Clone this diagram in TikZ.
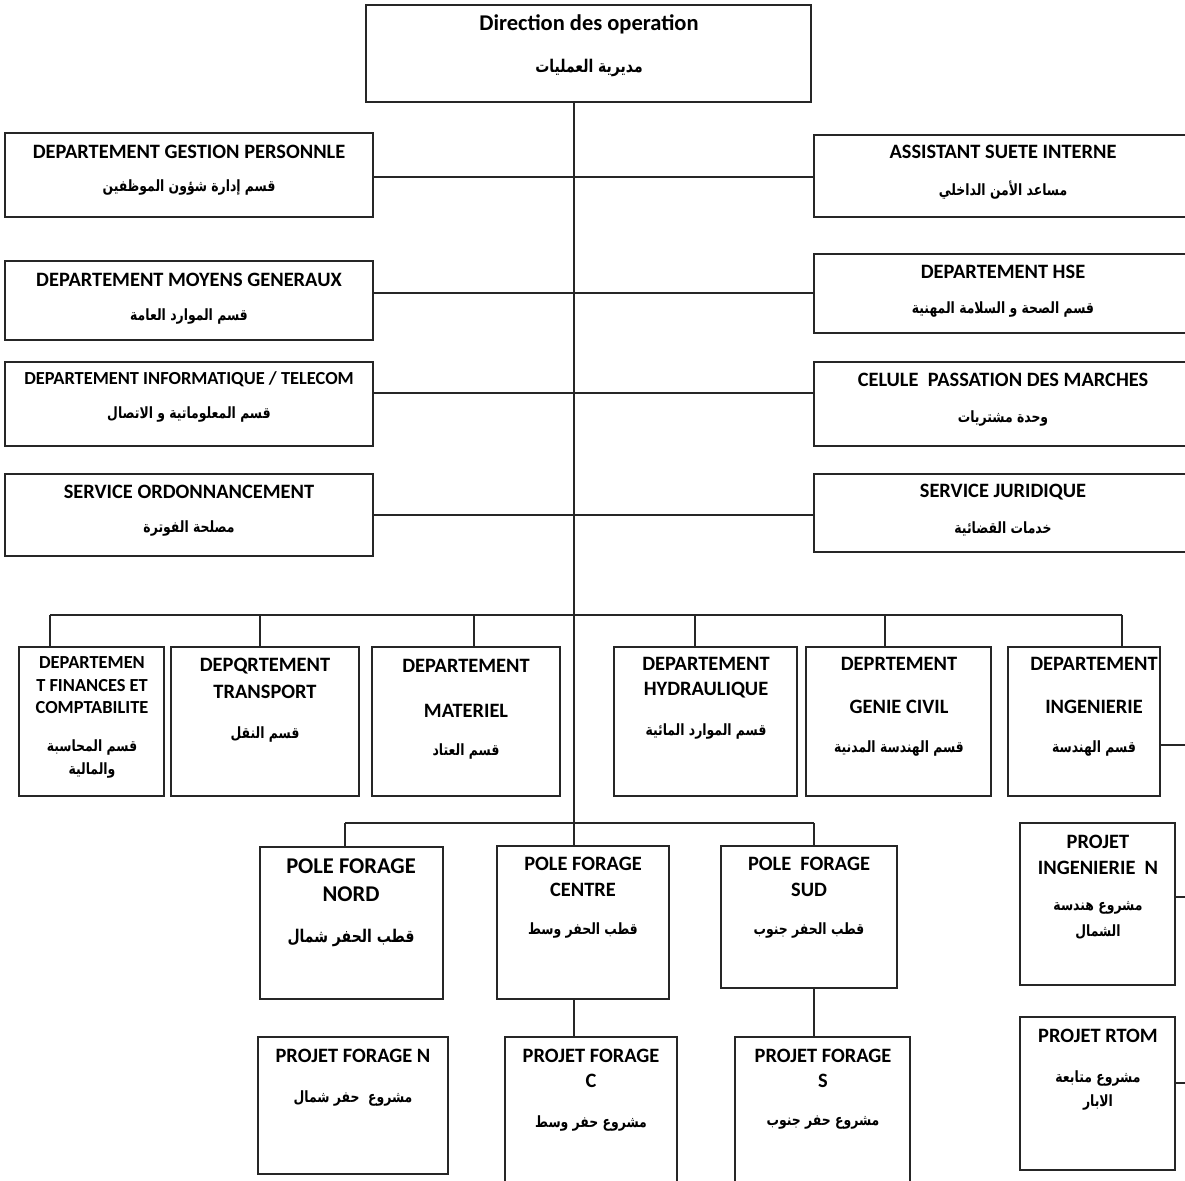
\documentclass[tikz,border=0pt]{standalone}
\usepackage{fontspec}
\usepackage{graphicx}
\setmainfont{Carlito}
\newfontfamily\arfont[Script=Arabic]{DejaVu Sans}
\TeXXeTstate=1
\usetikzlibrary{fit}
\definecolor{lc}{HTML}{262626}
\newcommand\AR[1]{\scalebox{0.8}[1]{\arfont\bfseries\beginR #1\endR}}
\tikzset{
  box/.style={draw=lc, line width=1.1pt, inner sep=0pt},
  lat/.style={font=\fontsize{20.4}{24}\selectfont\bfseries, inner sep=0pt, text=black},
  latS/.style={font=\fontsize{18.4}{22}\selectfont\bfseries, inner sep=0pt, text=black},
  latB/.style={font=\fontsize{22.5}{26}\selectfont\bfseries, inner sep=0pt, text=black},
  ar/.style={font=\fontsize{15.5}{18}\selectfont, inner sep=0pt, text=black},
  arB/.style={font=\fontsize{17.5}{20}\selectfont, inner sep=0pt, text=black},
  conn/.style={draw=lc, line width=1.1pt}
}
\begin{document}
\begin{tikzpicture}[x=1pt,y=-1pt]
\useasboundingbox (0,0) rectangle (1185,1180);
\fill[white] (0,0) rectangle (1185,1180);
\clip (0,0) rectangle (1185,1180);

% ---------- boxes ----------
\node[box, fit={(366,5)(811,102)}] (top) {};
\node[box, fit={(5,133)(373,217)}] (gp) {};
\node[box, fit={(5,261)(373,340)}] (mg) {};
\node[box, fit={(5,362)(373,446)}] (inf) {};
\node[box, fit={(5,474)(373,556)}] (ord) {};
\node[box, fit={(814,135)(1200,217)}] (ast) {};
\node[box, fit={(814,254)(1200,333)}] (hse) {};
\node[box, fit={(814,362)(1200,446)}] (cel) {};
\node[box, fit={(814,474)(1200,552)}] (jur) {};

\node[box, fit={(19,647)(164,796)}] (fin) {};
\node[box, fit={(171,647)(359,796)}] (tra) {};
\node[box, fit={(372,647)(560,796)}] (mat) {};
\node[box, fit={(614,647)(797,796)}] (hyd) {};
\node[box, fit={(806,647)(991,796)}] (gc) {};
\node[box, fit={(1008,647)(1160,796)}] (ing) {};

\node[box, fit={(260,847)(443,999)}] (pn) {};
\node[box, fit={(497,846)(669,999)}] (pc) {};
\node[box, fit={(721,846)(897,988)}] (ps) {};
\node[box, fit={(1020,823)(1175,985)}] (pin) {};

\node[box, fit={(258,1037)(448,1174)}] (prn) {};
\node[box, fit={(505,1037)(677,1195)}] (prc) {};
\node[box, fit={(735,1037)(910,1195)}] (prs) {};
\node[box, fit={(1020,1017)(1175,1170)}] (rtom) {};

% ---------- texts ----------
\node[latB] at (589,24) {Direction des operation};
\node[arB] at (589,68) {\AR{مديرية العمليات}};

\node[lat] at (189,152) {DEPARTEMENT GESTION PERSONNLE};
\node[ar] at (189,188) {\AR{قسم إدارة شؤون الموظفين}};
\node[lat] at (189,280) {DEPARTEMENT MOYENS GENERAUX};
\node[ar] at (189,317) {\AR{قسم الموارد العامة}};
\node[latS] at (189,379) {DEPARTEMENT INFORMATIQUE / TELECOM};
\node[ar] at (189,414) {\AR{قسم المعلوماتية و الاتصال}};
\node[lat] at (189,492) {SERVICE ORDONNANCEMENT};
\node[ar] at (189,528) {\AR{مصلحة الفوترة}};

\node[lat] at (1003,152) {ASSISTANT SUETE INTERNE};
\node[ar] at (1003,190) {\AR{مساعد الأمن الداخلي}};
\node[lat] at (1003,272) {DEPARTEMENT HSE};
\node[ar] at (1003,310) {\AR{قسم الصحة و السلامة المهنية}};
\node[lat] at (1003,380) {CELULE\ \ PASSATION DES MARCHES};
\node[ar] at (1003,418) {\AR{وحدة مشتريات}};
\node[lat] at (1003,492) {SERVICE JURIDIQUE};
\node[ar] at (1003,529) {\AR{خدمات القضائية}};

\node[latS] at (92,663) {DEPARTEMEN};
\node[latS] at (92,686) {T FINANCES ET};
\node[latS] at (92,708) {COMPTABILITE};
\node[ar] at (92,747) {\AR{قسم المحاسبة}};
\node[ar] at (92,770) {\AR{والمالية}};

\node[lat] at (265,666) {DEPQRTEMENT};
\node[lat] at (265,692) {TRANSPORT};
\node[ar] at (265,734) {\AR{قسم النقل}};

\node[lat] at (466,666) {DEPARTEMENT};
\node[lat] at (466,711) {MATERIEL};
\node[ar] at (466,751) {\AR{قسم العتاد}};

\node[lat] at (706,664) {DEPARTEMENT};
\node[lat] at (706,690) {HYDRAULIQUE};
\node[ar] at (706,731) {\AR{قسم الموارد المائية}};

\node[lat] at (899,664) {DEPRTEMENT};
\node[lat] at (899,707) {GENIE CIVIL};
\node[ar] at (899,748) {\AR{قسم الهندسة المدنية}};

\node[lat] at (1094,664) {DEPARTEMENT};
\node[lat] at (1094,707) {INGENIERIE};
\node[ar] at (1094,748) {\AR{قسم الهندسة}};

\node[latB] at (351,866) {POLE FORAGE};
\node[latB] at (351,894) {NORD};
\node[arB] at (351,938) {\AR{قطب الحفر شمال}};

\node[lat] at (583,864) {POLE FORAGE};
\node[lat] at (583,890) {CENTRE};
\node[ar] at (583,930) {\AR{قطب الحفر وسط}};

\node[lat] at (809,864) {POLE\ \ FORAGE};
\node[lat] at (809,890) {SUD};
\node[ar] at (809,930) {\AR{قطب الحفر جنوب}};

\node[lat] at (1098,842) {PROJET};
\node[lat] at (1098,868) {INGENIERIE\ \ N};
\node[ar] at (1098,908) {\AR{مشروع هندسة}};
\node[ar] at (1098,932) {\AR{الشمال}};

\node[lat] at (353,1056) {PROJET FORAGE N};
\node[ar] at (353,1098) {\AR{مشروع\ \ حفر شمال}};

\node[lat] at (591,1056) {PROJET FORAGE};
\node[lat] at (591,1081) {C};
\node[ar] at (591,1123) {\AR{مشروع حفر وسط}};

\node[lat] at (823,1056) {PROJET FORAGE};
\node[lat] at (823,1081) {S};
\node[ar] at (823,1123) {\AR{مشروع حفر جنوب}};

\node[lat] at (1098,1036) {PROJET RTOM};
\node[ar] at (1098,1078) {\AR{مشروع متابعة}};
\node[ar] at (1098,1102) {\AR{الابار}};

% ---------- junction coordinates ----------
\coordinate (s0) at (574,823);
\coordinate (j1) at (574,177);
\coordinate (j2) at (574,293);
\coordinate (j3) at (574,393);
\coordinate (j4) at (574,515);
\coordinate (d1) at (50,615);
\coordinate (d2) at (260,615);
\coordinate (d3) at (474,615);
\coordinate (d4) at (695,615);
\coordinate (d5) at (885,615);
\coordinate (d6) at (1122,615);
\coordinate (p1) at (345,823);
\coordinate (p3) at (814,823);
\coordinate (e1) at (1190,745);
\coordinate (e2) at (1190,897);
\coordinate (e3) at (1190,1083);

% ---------- connectors ----------
\draw[conn] (s0 |- top.south) -- (s0 |- pc.north);
\draw[conn] (gp.east |- j1) -- (ast.west |- j1);
\draw[conn] (mg.east |- j2) -- (hse.west |- j2);
\draw[conn] (inf.east |- j3) -- (cel.west |- j3);
\draw[conn] (ord.east |- j4) -- (jur.west |- j4);

\draw[conn] (d1) -- (d6);
\draw[conn] (d1) -- (d1 |- fin.north);
\draw[conn] (d2) -- (d2 |- tra.north);
\draw[conn] (d3) -- (d3 |- mat.north);
\draw[conn] (d4) -- (d4 |- hyd.north);
\draw[conn] (d5) -- (d5 |- gc.north);
\draw[conn] (d6) -- (d6 |- ing.north);

\draw[conn] (p1) -- (p3);
\draw[conn] (p1) -- (p1 |- pn.north);
\draw[conn] (p3) -- (p3 |- ps.north);
\draw[conn] (s0 |- pc.south) -- (s0 |- prc.north);
\draw[conn] (p3 |- ps.south) -- (p3 |- prs.north);

\draw[conn] (ing.east |- e1) -- (e1);
\draw[conn] (pin.east |- e2) -- (e2);
\draw[conn] (rtom.east |- e3) -- (e3);
\end{tikzpicture}
\end{document}
